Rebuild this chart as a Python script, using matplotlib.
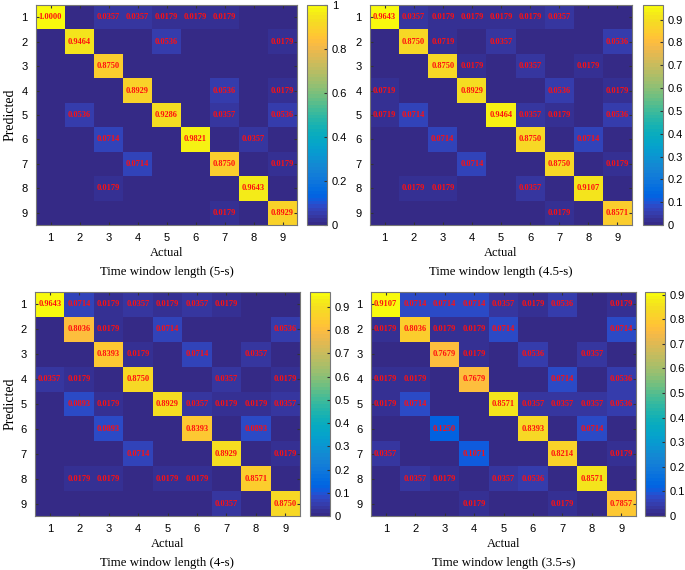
import numpy as np
import matplotlib.pyplot as plt
from matplotlib.colors import ListedColormap
from matplotlib.ticker import FuncFormatter

### confusion matrices (rows = predicted, cols = actual)
classes = [1, 2, 3, 4, 5, 6, 7, 8, 9]

cm_5s = [
    [1.0000, 0, 0.0357, 0.0357, 0.0179, 0.0179, 0.0179, 0, 0],
    [0, 0.9464, 0, 0, 0.0536, 0, 0, 0, 0.0179],
    [0, 0, 0.8750, 0, 0, 0, 0, 0, 0],
    [0, 0, 0, 0.8929, 0, 0, 0.0536, 0, 0.0179],
    [0, 0.0536, 0, 0, 0.9286, 0, 0.0357, 0, 0.0536],
    [0, 0, 0.0714, 0, 0, 0.9821, 0, 0.0357, 0],
    [0, 0, 0, 0.0714, 0, 0, 0.8750, 0, 0.0179],
    [0, 0, 0.0179, 0, 0, 0, 0, 0.9643, 0],
    [0, 0, 0, 0, 0, 0, 0.0179, 0, 0.8929],
]

cm_45s = [
    [0.9643, 0.0357, 0.0179, 0.0179, 0.0179, 0.0179, 0.0357, 0, 0],
    [0, 0.8750, 0.0179, 0, 0.0357, 0, 0, 0, 0.0536],
    [0, 0, 0.8750, 0.0179, 0, 0.0357, 0, 0.0179, 0],
    [0.0179, 0, 0, 0.8929, 0, 0, 0.0536, 0, 0.0179],
    [0.0179, 0.0714, 0, 0, 0.9464, 0.0357, 0.0179, 0, 0.0536],
    [0, 0, 0.0714, 0, 0, 0.8750, 0, 0.0714, 0],
    [0, 0, 0, 0.0714, 0, 0, 0.8750, 0, 0.0179],
    [0, 0.0179, 0.0179, 0, 0, 0.0357, 0, 0.9107, 0],
    [0, 0, 0, 0, 0, 0, 0.0179, 0, 0.8571],
]
# the printed labels in the 4.5-s panel read 0.0719 for these cells
labels_45s = {(1, 2): '0.0719', (3, 0): '0.0719', (4, 0): '0.0719'}

cm_4s = [
    [0.9643, 0.0714, 0.0179, 0.0357, 0.0179, 0.0357, 0.0179, 0, 0],
    [0, 0.8036, 0.0179, 0, 0.0714, 0, 0, 0, 0.0536],
    [0, 0, 0.8393, 0.0179, 0, 0.0714, 0, 0.0357, 0],
    [0.0357, 0.0179, 0, 0.8750, 0, 0, 0.0357, 0, 0.0179],
    [0, 0.0893, 0.0179, 0, 0.8929, 0.0357, 0.0179, 0.0179, 0.0357],
    [0, 0, 0.0893, 0, 0, 0.8393, 0, 0.0893, 0],
    [0, 0, 0, 0.0714, 0, 0, 0.8929, 0, 0.0179],
    [0, 0.0179, 0.0179, 0, 0.0179, 0.0179, 0, 0.8571, 0],
    [0, 0, 0, 0, 0, 0, 0.0357, 0, 0.8750],
]

cm_35s = [
    [0.9107, 0.0714, 0.0714, 0.0714, 0.0357, 0.0179, 0.0536, 0, 0.0179],
    [0.0179, 0.8036, 0.0179, 0.0179, 0.0714, 0, 0, 0, 0.0714],
    [0, 0, 0.7679, 0.0179, 0, 0.0536, 0, 0.0357, 0],
    [0.0179, 0.0179, 0, 0.7679, 0, 0, 0.0714, 0, 0.0536],
    [0.0179, 0.0714, 0, 0, 0.8571, 0.0357, 0.0357, 0.0357, 0.0536],
    [0, 0, 0.1250, 0, 0, 0.8393, 0, 0.0714, 0],
    [0.0357, 0, 0, 0.1071, 0, 0, 0.8214, 0, 0.0179],
    [0, 0.0357, 0.0179, 0, 0.0357, 0.0536, 0, 0.8571, 0],
    [0, 0, 0, 0.0179, 0, 0, 0.0179, 0, 0.7857],
]

titles = ['Time window length (5-s)', 'Time window length (4.5-s)',
          'Time window length (4-s)', 'Time window length (3.5-s)']
cbar_ticks = [[0, 0.2, 0.4, 0.6, 0.8, 1.0],
              [0, 0.1, 0.2, 0.3, 0.4, 0.5, 0.6, 0.7, 0.8, 0.9],
              [0, 0.1, 0.2, 0.3, 0.4, 0.5, 0.6, 0.7, 0.8, 0.9],
              [0, 0.1, 0.2, 0.3, 0.4, 0.5, 0.6, 0.7, 0.8, 0.9]]

### matlab parula(64)
parula_64 = [
    (0.2081, 0.1663, 0.5292), (0.2116, 0.1898, 0.5777), (0.2123, 0.2138, 0.6270), (0.2081, 0.2386, 0.6771),
    (0.1959, 0.2645, 0.7279), (0.1707, 0.2919, 0.7792), (0.1253, 0.3242, 0.8303), (0.0591, 0.3598, 0.8683),
    (0.0117, 0.3875, 0.8820), (0.0060, 0.4086, 0.8828), (0.0165, 0.4266, 0.8786), (0.0329, 0.4430, 0.8720),
    (0.0498, 0.4586, 0.8641), (0.0629, 0.4737, 0.8554), (0.0723, 0.4887, 0.8467), (0.0779, 0.5040, 0.8384),
    (0.0793, 0.5200, 0.8312), (0.0749, 0.5375, 0.8263), (0.0641, 0.5570, 0.8240), (0.0488, 0.5772, 0.8228),
    (0.0343, 0.5966, 0.8199), (0.0265, 0.6137, 0.8135), (0.0239, 0.6287, 0.8038), (0.0231, 0.6418, 0.7913),
    (0.0228, 0.6535, 0.7768), (0.0267, 0.6642, 0.7607), (0.0384, 0.6743, 0.7436), (0.0590, 0.6838, 0.7254),
    (0.0843, 0.6928, 0.7062), (0.1133, 0.7015, 0.6859), (0.1453, 0.7098, 0.6646), (0.1801, 0.7177, 0.6424),
    (0.2178, 0.7250, 0.6193), (0.2586, 0.7317, 0.5954), (0.3022, 0.7376, 0.5712), (0.3482, 0.7424, 0.5473),
    (0.3953, 0.7459, 0.5244), (0.4420, 0.7481, 0.5033), (0.4871, 0.7491, 0.4840), (0.5300, 0.7491, 0.4661),
    (0.5709, 0.7485, 0.4494), (0.6099, 0.7473, 0.4337), (0.6473, 0.7456, 0.4188), (0.6834, 0.7435, 0.4044),
    (0.7184, 0.7411, 0.3905), (0.7525, 0.7384, 0.3768), (0.7858, 0.7356, 0.3633), (0.8185, 0.7327, 0.3498),
    (0.8507, 0.7299, 0.3360), (0.8824, 0.7274, 0.3217), (0.9139, 0.7258, 0.3063), (0.9450, 0.7261, 0.2886),
    (0.9739, 0.7314, 0.2666), (0.9938, 0.7455, 0.2403), (0.9990, 0.7653, 0.2164), (0.9955, 0.7861, 0.1967),
    (0.9880, 0.8066, 0.1794), (0.9789, 0.8271, 0.1633), (0.9697, 0.8481, 0.1475), (0.9626, 0.8705, 0.1309),
    (0.9589, 0.8949, 0.1132), (0.9598, 0.9218, 0.0948), (0.9661, 0.9514, 0.0755), (0.9763, 0.9831, 0.0538),
]
parula = ListedColormap(parula_64, name='parula')

plt.rcParams['font.family'] = 'Liberation Sans'

W, H = 685, 570
fig = plt.figure(figsize=(W / 100, H / 100), dpi=100)

# pixel boxes: (left, top, right, bottom, colorbar left)
boxes = [(36, 5, 297, 225, 307), (370, 5, 632, 225, 643),
         (35, 292, 300, 516, 310), (371, 292, 636, 516, 645)]
mats = [cm_5s, cm_45s, cm_4s, cm_35s]
label_fix = [{}, labels_45s, {}, {}]

def fmt_tick(v, pos):
    return '%g' % round(v, 2)

for i, (cm, (l, t, r, b, cl)) in enumerate(zip(mats, boxes)):
    cm = np.array(cm)
    ax = fig.add_axes([l / W, (H - b) / H, (r - l) / W, (b - t) / H])
    im = ax.imshow(cm, cmap=parula, vmin=0, vmax=cm.max(), aspect='auto')
    for p in range(9):
        for a in range(9):
            if cm[p, a] > 0:
                txt = label_fix[i].get((p, a), '%.4f' % cm[p, a])
                ax.text(a, p, txt, ha='center', va='center',
                        color='#ff1010', fontsize=6, fontweight='bold',
                        family='Liberation Serif')
    ax.set_xticks(range(9))
    ax.set_xticklabels(classes)
    ax.set_yticks(range(9))
    ax.set_yticklabels(classes)
    ax.tick_params(direction='in', length=2.5, labelsize=8, top=True,
                   right=True, color='#333333', pad=6)
    for s in ax.spines.values():
        s.set_color('#777777')
        s.set_linewidth(0.8)

    cax = fig.add_axes([cl / W, (H - b) / H, 20 / W, (b - t) / H])
    cb = fig.colorbar(im, cax=cax)
    cb.set_ticks(cbar_ticks[i])
    cb.ax.yaxis.set_major_formatter(FuncFormatter(fmt_tick))
    cb.ax.tick_params(direction='in', length=2.5, labelsize=8, color='#333333')
    cb.outline.set_edgecolor('#777777')
    cb.outline.set_linewidth(0.8)

    xc = (l + r) / 2 / W
    fig.text(xc, 1 - (b + 28) / H, 'Actual', ha='center', va='center',
             fontsize=9, family='Liberation Serif')
    fig.text(xc, 1 - (b + 47) / H, titles[i], ha='center', va='center',
             fontsize=9.3, family='Liberation Serif')
    if i % 2 == 0:
        fig.text(10 / W, 1 - (t + b) / 2 / H, 'Predicted', rotation=90,
                 ha='center', va='center', fontsize=10,
                 family='Liberation Serif')

fig.savefig('out.png', dpi=100)
